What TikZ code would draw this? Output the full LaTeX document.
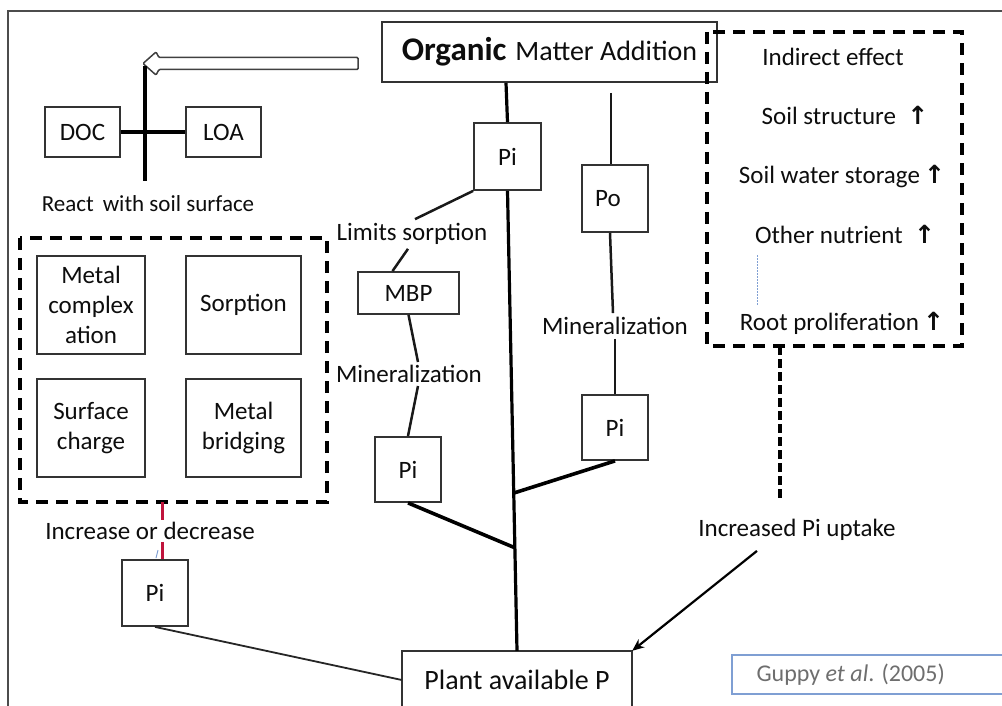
\documentclass[tikz,border=0pt]{standalone}
\usepackage{fontspec}
\setmainfont{Carlito}
\newfontfamily\symfont{DejaVu Sans}
\usetikzlibrary{calc,arrows.meta}
\definecolor{boxgray}{HTML}{333333}
\definecolor{redline}{HTML}{C0143C}
\definecolor{citeblue}{HTML}{7F9FD3}
\definecolor{citegray}{HTML}{6E6E6E}
\newcommand{\upar}{{\symfont\bfseries ↑}}
\tikzset{
  x=1pt, y=-1pt,
  every node/.style={font=\fontsize{25}{30}\selectfont, text=black!95},
  box/.style={draw=boxgray, line width=1.8pt, fill=white, inner sep=0pt, align=center},
  lbl/.style={inner sep=2pt, align=center},
  conn/.style={line width=3.2pt, black},
  thinconn/.style={line width=2.5pt, black!90},
  dashbox/.style={line width=3.4pt, dash pattern=on 12pt off 8pt, black},
}
\begin{document}
\begin{tikzpicture}
\useasboundingbox (0,0) rectangle (1002,706);
% outer frame
\draw[line width=1.2pt, black!70] (8,706) -- (8,11) -- (1002,11);

% main nodes
\node[box, minimum width=335, minimum height=60] (oma) at (549.5,52)
  {{\fontsize{33}{35}\selectfont\bfseries Organic}\hspace{9pt}{\fontsize{28}{30}\selectfont Matter Addition}};
\node[box, minimum width=75, minimum height=50] (doc) at (82.5,132) {DOC};
\node[box, minimum width=75, minimum height=50] (loa) at (223.5,132) {LOA};
\node[lbl, font=\fontsize{23}{28}\selectfont] (react) at (148,204) {React\, with soil surface};

% hollow arrow
\draw[line width=1.5pt, black!75, fill=white, rounded corners=1pt]
  (358,57.5) -- (159,57.5) -- (156,52) -- (143,63.5) -- (156,75) -- (159,69.5) -- (358,69.5) -- cycle;
\coordinate (stemtop) at (145,66);
\coordinate (stembot) at (145,181);
\draw[conn] (stemtop) -- (stembot);
\draw[conn] (doc.east) -- (loa.west);

% left dashed group
\draw[dashbox] (20,238) rectangle (327,502);
\coordinate (ldb) at (162,502);
\node[box, minimum width=108, minimum height=98] (mc) at (91,305) {Metal\\complex\\ation};
\node[box, minimum width=115, minimum height=98] (sorp) at (243.5,305) {Sorption};
\node[box, minimum width=108, minimum height=98] (sc) at (91,428) {Surface\\charge};
\node[box, minimum width=115, minimum height=98] (mb) at (243.5,428) {Metal\\bridging};

\node[lbl] (incdec) at (150,531) {Increase or decrease};
\node[box, minimum width=66, minimum height=66] (pi4) at (155,593) {Pi};
\draw[line width=3pt, redline] (ldb) -- ($(incdec.north)+(12,0)$);
\draw[line width=3pt, redline] ($(incdec.south)+(12,0)$) -- ($(pi4.north)+(7,0)$);
\draw[line width=1pt, citeblue] ($(pi4.north)+(1,-1)$) -- ($(pi4.north)+(3,-9)$);

% center column
\node[box, minimum width=67, minimum height=67] (pi1) at (507.5,156.5) {Pi};
\node[lbl] (limits) at (412,234) {Limits sorption};
\node[box, minimum width=101, minimum height=42] (mbp) at (408.5,293) {MBP};
\node[lbl] (min1) at (409,374) {Mineralization};
\node[box, minimum width=66, minimum height=65] (pi2) at (408,469.5) {Pi};

% Po column
\coordinate (potop) at (611,93);
\node[box, minimum width=66, minimum height=67] (po) at (615,198.5) {Po\hspace*{14pt}};
\node[lbl] (min2) at (615,326) {Mineralization};
\node[box, minimum width=66, minimum height=65] (pi3) at (615,427.5) {Pi};

% plant available P (bottom edge off page)
\node[inner sep=0, minimum width=230, minimum height=58, font=\fontsize{28}{30}\selectfont] (pap) at (517,680) {Plant available P};
\draw[boxgray, line width=1.8pt] ($(pap.south west)+(0,3)$) -- (pap.north west) -- (pap.north east) -- ($(pap.south east)+(0,3)$);

% connectors
\draw[conn] ($(oma.south)+(-43.5,0)$) -- (pi1.north);
\draw[conn] (pi1.south) -- (pap.north);
\coordinate (j1) at ($(pi1.south)!0.776!(pap.north)$);
\coordinate (j2) at ($(pi1.south)!0.657!(pap.north)$);
\draw[thinconn] (pi1.south west) -- ($(limits.north)+(3,-2)$);
\draw[thinconn] ($(limits.south)+(-4,2)$) -- ($(mbp.north)+(-16,0)$);
\draw[thinconn] (mbp.south) -- ($(min1.north)+(9,-1)$);
\draw[thinconn] ($(min1.south)+(9,1)$) -- (pi2.north);
\draw[conn, line width=3.6pt] (pi2.south) -- (j1);
\draw[thinconn] (potop) -- ($(po.north)+(-4,0)$);
\draw[thinconn] ($(po.south)+(-5,0)$) -- ($(min2.north)+(-2,-2)$);
\draw[thinconn] ($(min2.south)+(0,2)$) -- (pi3.north);
\draw[conn, line width=3.6pt] (pi3.south) -- (j2);
\draw[line width=1.8pt, black!85] (pi4.south) -- (pap.west);

% right dashed group
\draw[dashbox] (707,32) rectangle (962,346);
\node[lbl] (ind) at (833,57) {Indirect effect};
\node[lbl] (ss) at (845,115) {Soil structure \ \upar};
\node[lbl] (sws) at (842,176) {Soil water storage\,\upar};
\node[lbl] (on) at (845,234) {Other nutrient \ \upar};
\node[lbl] (rp) at (842,323) {Root proliferation\,\upar};
\draw[citeblue, line width=1pt, dash pattern=on 2pt off 1pt] (757,255) -- (757,305);
\coordinate (rdtop) at (780,346);
\coordinate (rdbot) at (780,500);
\draw[dashbox, line width=3.2pt, dash pattern=on 9pt off 4pt] (rdtop) -- (rdbot);

\node[lbl] (incpi) at (797,530) {Increased Pi uptake};
\draw[line width=2.2pt, black, -{Stealth[length=12pt,width=10pt]}] ($(incpi.south)+(-40,8)$) -- (pap.north east);

% citation
\node[draw=citeblue, line width=1.4pt, inner sep=0, minimum width=273, minimum height=39] (cite) at (868.5,674.5) {};
\node[anchor=west, inner sep=0, text=citegray, font=\fontsize{24}{28}\selectfont] (citetext) at ($(cite.west)+(25,0)$) {Guppy \textit{et al}. (2005)};
\end{tikzpicture}
\end{document}
